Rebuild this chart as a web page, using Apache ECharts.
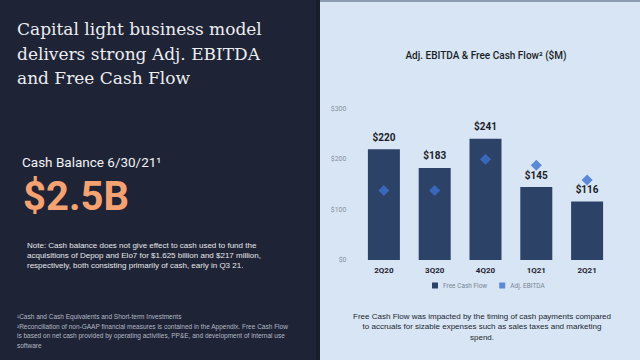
<!DOCTYPE html>
<html><head><meta charset="utf-8">
<script src="https://cdn.jsdelivr.net/npm/echarts@6/dist/echarts.min.js"></script>
<style>html,body{margin:0;padding:0;background:#d7e5f4}#c{width:640px;height:360px}</style>
</head><body><div id="c"></div>
<script>
var categories = ['2Q20', '3Q20', '4Q20', '1Q21', '2Q21'];
var freeCashFlow = [220, 183, 241, 145, 116];
var adjEbitda = [138, 138, 200, 188, 159];
var yMax = 300, yStep = 100;

var leftTitle = ['Capital light business model', 'delivers strong Adj. EBITDA', 'and Free Cash Flow'];
var noteLines = ['Note: Cash balance does not give effect to cash used to fund the',
  'acquisitions of Depop and Elo7 for $1.625 billion and $217 million,',
  'respectively, both consisting primarily of cash, early in Q3 21.'];
var footLines = ['¹Cash and Cash Equivalents and Short-term Investments',
  '²Reconciliation of non-GAAP financial measures is contained in the Appendix. Free Cash Flow',
  'is based on net cash provided by operating activities, PP&E, and development of internal use',
  'software'];
var rightNote = ['Free Cash Flow was impacted by the timing of cash payments compared',
  'to accruals for sizable expenses such as sales taxes and marketing', 'spend.'];

var chart = echarts.init(document.getElementById('c'), null, {renderer: 'svg'});
var sans = 'Roboto, "Liberation Sans", Arial, sans-serif';
var arial = '"Liberation Sans", Arial, sans-serif';

var graphics = [
  {type: 'rect', shape: {x: 0, y: 0, width: 320, height: 360}, style: {fill: '#1e2436'}, z: -10},
  {type: 'rect', shape: {x: 316, y: 0, width: 4, height: 360}, style: {fill: '#181d2c'}, z: -9},
  {type: 'rect', shape: {x: 320, y: 0, width: 320, height: 2}, style: {fill: '#8d9bb0'}, z: -9},
  {type: 'text', left: 17, top: 17, style: {text: leftTitle.join('\n'), fill: '#ecedf0',
    font: '17px "DejaVu Serif", serif', lineHeight: 24.5}},
  {type: 'text', left: 22, top: 155, style: {text: 'Cash Balance 6/30/21¹', fill: '#f2f2f4',
    font: '13.5px ' + sans}},
  {type: 'text', left: 23, top: 176, style: {text: '$2.5B', fill: '#f4a271',
    font: 'bold 40px ' + sans}},
  {type: 'text', left: 27, top: 241, style: {text: noteLines.join('\n'), fill: '#e6e7ea',
    font: '8px ' + arial, lineHeight: 9.8}},
  {type: 'text', left: 17, top: 312, style: {text: footLines.join('\n'), fill: '#b4b8c4',
    font: '6.5px ' + arial, lineHeight: 9.5}},
  {type: 'text', x: 482, y: 311, style: {text: rightNote.join('\n'), fill: '#222630',
    font: '8px ' + arial, lineHeight: 10.5, align: 'center', verticalAlign: 'top'}}
];

chart.setOption({
  backgroundColor: '#d7e5f4',
  animation: false,
  title: {text: 'Adj. EBITDA & Free Cash Flow² ($M)', left: 481, top: 45, textAlign: 'center',
    textStyle: {fontFamily: sans, fontSize: 10, fontWeight: 500, color: '#1c1f26'}},
  legend: {left: 427, top: 277, itemWidth: 6, itemHeight: 6, itemGap: 12,
    data: [{name: 'Free Cash Flow', icon: 'rect'}, {name: 'Adj. EBITDA', icon: 'rect'}],
    textStyle: {fontFamily: sans, fontSize: 6.5, color: '#7d8494'}},
  grid: {left: 358.5, right: 27.5, top: 109, bottom: 100},
  xAxis: {type: 'category', data: categories,
    axisLine: {show: false}, axisTick: {show: false},
    axisLabel: {margin: 6, fontFamily: sans, fontSize: 8, fontWeight: 'bold', color: '#1e2230'}},
  yAxis: {type: 'value', min: 0, max: yMax, interval: yStep, splitLine: {show: false},
    axisLabel: {margin: 12, fontFamily: sans, fontSize: 7, color: '#8a909c',
      formatter: function (v) { return '$' + v; }}},
  graphic: graphics,
  series: [
    {name: 'Free Cash Flow', type: 'bar', data: freeCashFlow, barWidth: 32,
      itemStyle: {color: '#2c4267'},
      label: {show: true, position: 'top', distance: 7, formatter: '${c}',
        fontFamily: sans, fontSize: 10, fontWeight: 'bold', color: '#1b1e28'}},
    {name: 'Adj. EBITDA', type: 'scatter', data: adjEbitda, symbol: 'diamond', symbolSize: 11,
      itemStyle: {color: '#3d72cf'}, z: 5}
  ]
});
</script></body></html>
